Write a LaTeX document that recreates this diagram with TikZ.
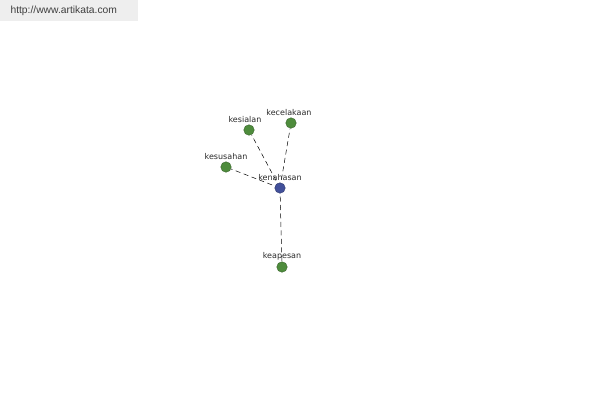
\documentclass[tikz,border=0pt]{standalone}
\usepackage{fontspec}
\setmainfont{DejaVu Sans}
\newfontfamily\bannerfont{Liberation Sans}
\usetikzlibrary{positioning,backgrounds}
\definecolor{ink}{HTML}{2A2A2A}
\definecolor{leaf}{HTML}{4E8C3C}
\definecolor{hub}{HTML}{42509A}
\definecolor{band}{HTML}{EEEEEE}

\begin{document}
\begin{tikzpicture}[
    x=1pt, y=-1pt,
    every node/.style={font=\fontsize{8}{9}\selectfont, text=ink},
    word/.style={circle, fill=#1, draw=#1!70!black, line width=0.4pt,
        minimum size=10.5pt, inner sep=0pt},
    wlabel/.style={above=1pt, inner sep=1pt},
    link/.style={draw=black, dash pattern=on 5pt off 3.5pt, line width=0.5pt},
]

% Canvas
\useasboundingbox (0,0) rectangle (600,400);

% Site banner text
\node[anchor=west, font=\bannerfont\fontsize{10.3}{11}\selectfont, text=ink!90] (site) at (7,11)
    {http://www.artikata.com};

% Central word
\node[word=hub] (nahas) at (280,188) {};
\node[wlabel, above=0.5pt of nahas.north] (nahasl) {kenahasan};

% Related words
\node[word=leaf] (sial) at (249,130) {};
\node[wlabel, above=0.5pt of sial.north, xshift=-4pt] (siall) {kesialan};

\node[word=leaf] (celaka) at (291,123) {};
\node[wlabel, above=0.5pt of celaka.north, xshift=-2pt] (celakal) {kecelakaan};

\node[word=leaf] (susah) at (226,167) {};
\node[wlabel, above=0.5pt of susah.north] (susahl) {kesusahan};

\node[word=leaf] (apes) at (282,267) {};
\node[wlabel, above=0.5pt of apes.north] (apesl) {keapesan};

% Background, banner and links
\begin{scope}[on background layer]
\fill[white] (0,0) rectangle (600,400);
\fill[band] (0,0) rectangle (138,21);
\draw[link] (nahas.center) -- (sial);
\draw[link] (nahas.center) -- (celaka);
\draw[link] (nahas.center) -- (susah);
\draw[link] (nahas.center) -- (apes);
\end{scope}

\end{tikzpicture}
\end{document}
